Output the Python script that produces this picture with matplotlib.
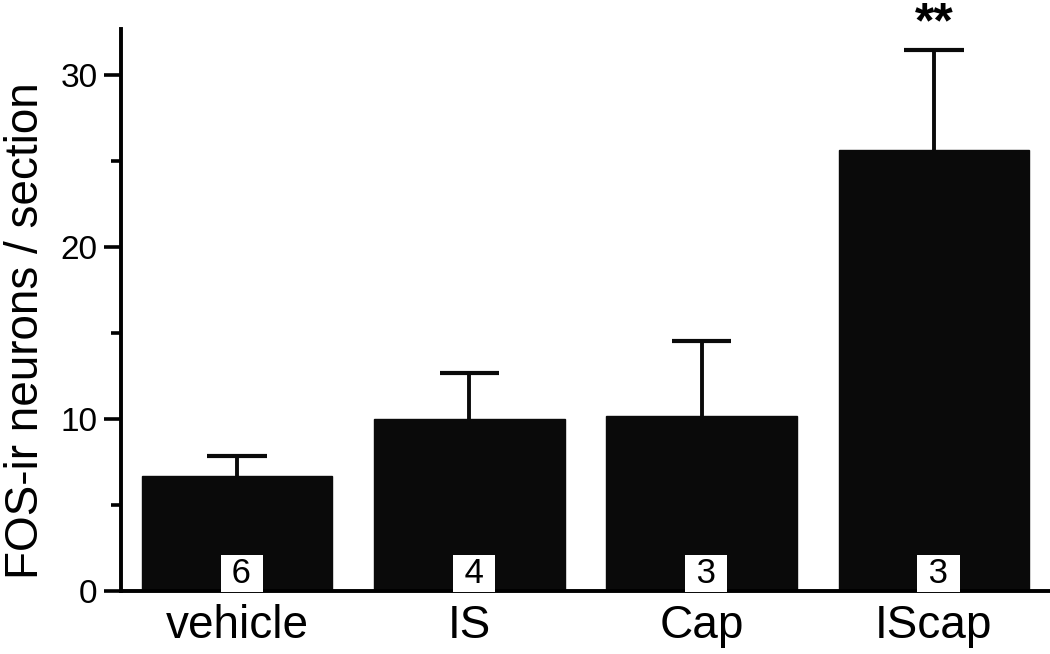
import numpy as np
import matplotlib
matplotlib.use('Agg')
from matplotlib import pyplot as plt

groups = ['vehicle', 'IS', 'Cap', 'IScap']
means = [6.7, 10.0, 10.2, 25.65]
sem = [1.15, 2.7, 4.35, 5.85]
n_animals = ['6', '4', '3', '3']
signif = ['', '', '', '**']

plt.rcParams['font.family'] = ['Liberation Sans', 'DejaVu Sans']

fig = plt.figure(figsize=(10.5, 6.54), dpi=100)
ax = fig.add_axes([0.1152, 0.0963, 0.8848, 0.8594])

x = np.arange(len(groups))
means = np.array(means)
sem = np.array(sem)
ax.bar(x, means, width=0.82, color='#0a0a0a', edgecolor='#0a0a0a', zorder=2)
# upper error bars only
ax.vlines(x, means, means + sem, colors='#0a0a0a', linewidth=2.8, zorder=1)
ax.hlines(means + sem, x - 0.128, x + 0.128, colors='#0a0a0a', linewidth=3.0, zorder=1)

# n per group in white boxes at bottom of bars
for xi, n in zip(x, n_animals):
    ax.text(xi + 0.02, 0.05, ' ' + n + ' ', ha='center', va='bottom', fontsize=25,
            bbox=dict(boxstyle='square,pad=0.05', fc='white', ec='none'), zorder=3)

for xi, m, s, lab in zip(x, means, sem, signif):
    if lab:
        ax.text(xi, 32.2, lab, ha='center', va='baseline', fontsize=36,
                fontweight='bold', clip_on=False)

ax.set_xlim(-0.5, 3.5)
ax.set_ylim(0, 32.7)
ax.set_yticks([0, 10, 20, 30])
ax.set_yticks([5, 15, 25], minor=True)
ax.set_xticks(x)
ax.set_xticklabels(groups, fontsize=33)
ax.tick_params(axis='x', length=0, pad=9)
ax.tick_params(axis='y', which='major', length=12, width=2.6, labelsize=24, pad=5)
ax.tick_params(axis='y', which='minor', length=7, width=2.6)
ax.spines['top'].set_visible(False)
ax.spines['right'].set_visible(False)
ax.spines['left'].set_linewidth(2.8)
ax.spines['bottom'].set_linewidth(2.8)
ax.set_ylabel('FOS-ir neurons / section', fontsize=33)
ax.yaxis.set_label_coords(-0.079, 0.463)

fig.savefig('out.png', dpi=100)
